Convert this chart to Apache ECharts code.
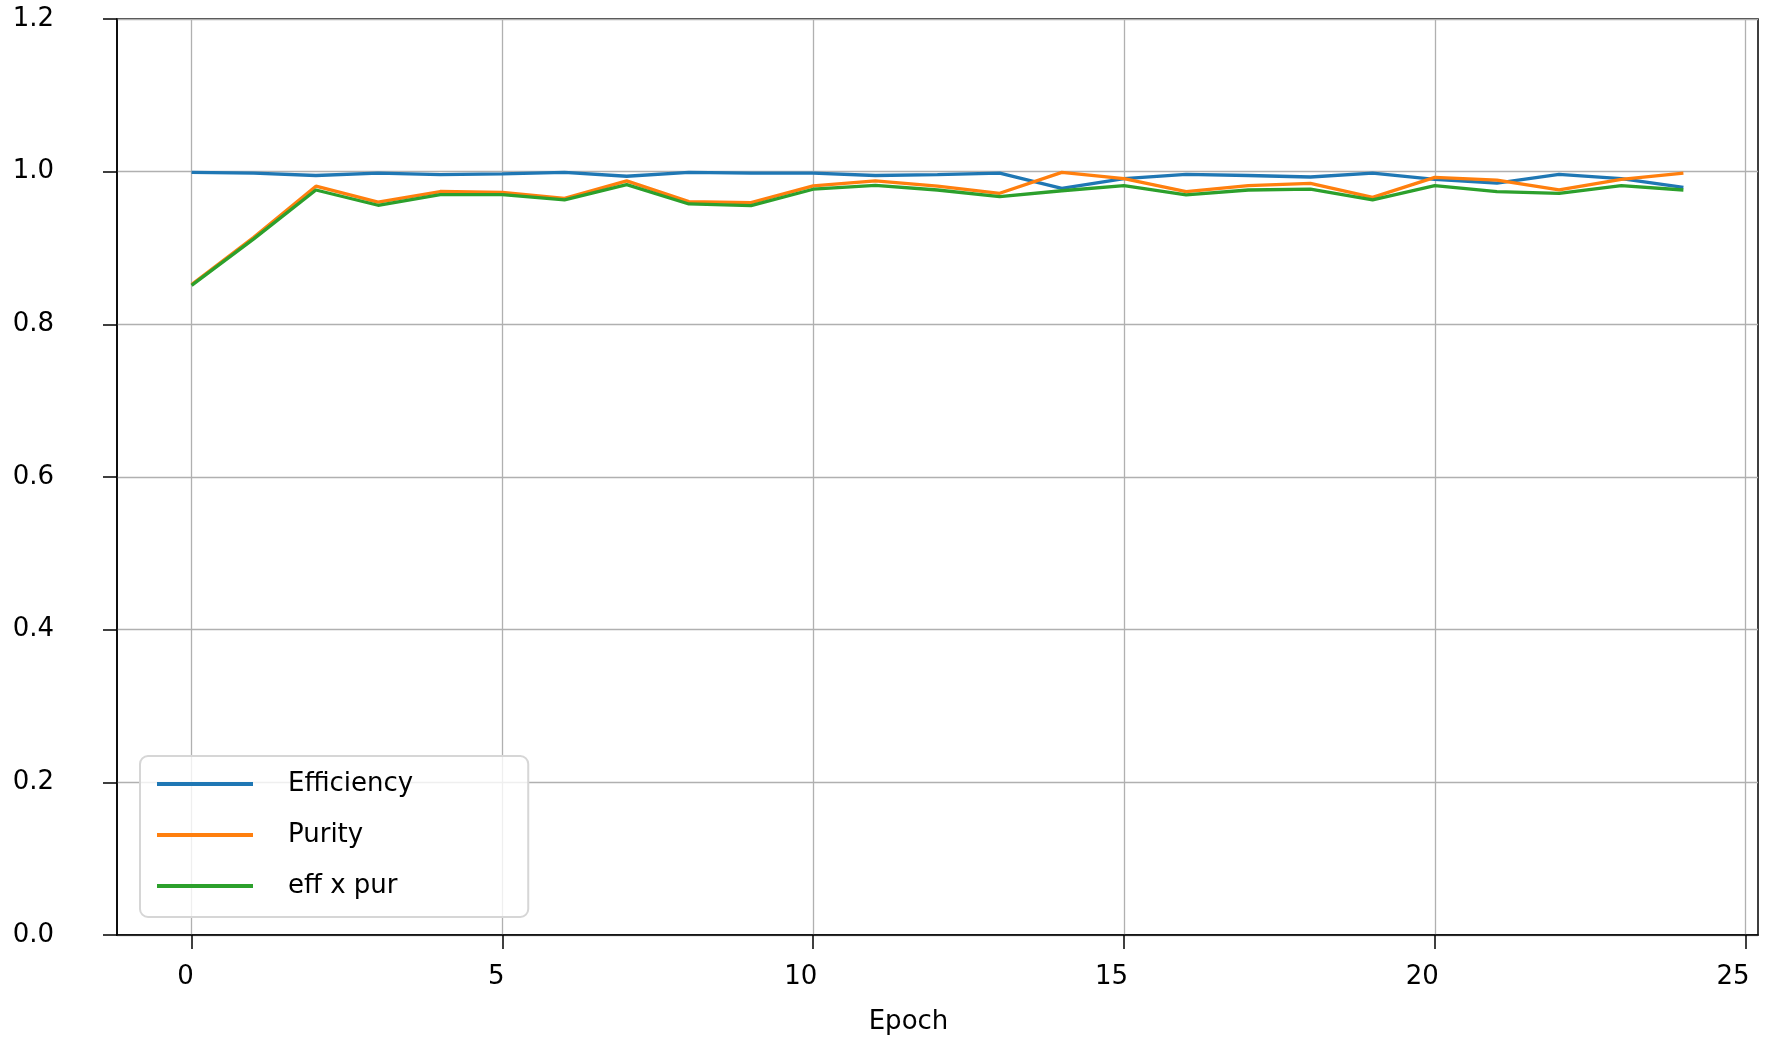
<!DOCTYPE html>
<html>
<head>
<meta charset="utf-8">
<script src="https://cdn.jsdelivr.net/npm/echarts@6/dist/echarts.min.js"></script>
<style>
html,body{margin:0;padding:0;background:#fff;}
#chart{width:1769px;height:1037px;}
</style>
</head>
<body>
<div id="chart"></div>
<script>
const epochs = [0,1,2,3,4,5,6,7,8,9,10,11,12,13,14,15,16,17,18,19,20,21,22,23,24];
const efficiency = [0.999,0.998,0.995,0.998,0.996,0.997,0.999,0.994,0.999,0.998,0.998,0.995,0.996,0.998,0.978,0.991,0.9965,0.995,0.993,0.998,0.990,0.985,0.9965,0.991,0.9795];
const purity = [0.852,0.914,0.981,0.960,0.974,0.973,0.965,0.988,0.9607,0.9594,0.9813,0.988,0.981,0.9717,0.999,0.991,0.9738,0.9817,0.9847,0.9664,0.9926,0.989,0.976,0.990,0.998];
const effXpur = [0.851,0.912,0.976,0.956,0.970,0.970,0.963,0.983,0.9577,0.9555,0.977,0.982,0.976,0.9673,0.975,0.9817,0.9695,0.976,0.977,0.963,0.9817,0.9738,0.9716,0.9817,0.976];
const xTicks = [0,5,10,15,20,25];
const seriesNames = ['Efficiency','Purity','eff x pur'];
const colors = ['#1f77b4','#ff7f0e','#2ca02c'];

const font = 'DejaVu Sans';
const chart = echarts.init(document.getElementById('chart'), null, {renderer:'canvas'});
const mk = (arr) => epochs.map((e,i)=>[e, arr[i]]);
const data = [efficiency, purity, effXpur];
const lab = {fontFamily:font,fontSize:26,color:'#000'};

chart.setOption({
  animation:false,
  backgroundColor:'#fff',
  grid:{left:117,right:11,top:19,bottom:102,outerBoundsMode:'none',containLabel:false,show:true,borderColor:'#000',borderWidth:1.5,backgroundColor:'transparent'},
  xAxis:{
    type:'value',min:-1.2,max:25.2,
    name:'Epoch',nameLocation:'middle',nameGap:74,
    nameTextStyle:{fontFamily:font,fontSize:26,color:'#000',padding:[0,58,0,0]},
    axisLine:{show:true,onZero:false,lineStyle:{color:'#000',width:1.5}},
    axisTick:{show:true,length:14,customValues:xTicks,lineStyle:{color:'#000',width:1.5}},
    axisLabel:{customValues:xTicks,fontFamily:font,fontSize:26,color:'#000',margin:29,
      formatter:v=> (v>=10? '{b|'+v+'}' : '{a|'+v+'}'),
      rich:{a:Object.assign({padding:[0,12,0,0]},lab), b:Object.assign({padding:[0,25,0,0]},lab)}},
    splitLine:{show:true,lineStyle:{color:'#b0b0b0',width:1.3}}
  },
  yAxis:{
    type:'value',min:0,max:1.2,interval:0.2,
    axisLine:{show:true,onZero:false,lineStyle:{color:'#000',width:1.5}},
    axisTick:{show:true,length:14,lineStyle:{color:'#000',width:1.5}},
    axisLabel:{fontFamily:font,fontSize:26,color:'#000',margin:63,formatter:v=>v.toFixed(1)},
    splitLine:{show:true,lineStyle:{color:'#b0b0b0',width:1.3}}
  },
  legend:{
    orient:'vertical',left:140,top:756,
    padding:[13,115,16,17],itemGap:21,
    itemWidth:96,itemHeight:4,icon:'rect',
    backgroundColor:'rgba(255,255,255,0.8)',borderColor:'#d6d6d6',borderWidth:2,borderRadius:8,
    textStyle:{fontFamily:font,fontSize:26,color:'#000',lineHeight:30,padding:[0,0,0,30]},
    data:seriesNames
  },
  series:seriesNames.map((n,i)=>({
    name:n,type:'line',data:mk(data[i]),showSymbol:false,symbol:'none',
    lineStyle:{color:colors[i],width:3.3},itemStyle:{color:colors[i]},z:3+i
  }))
});
</script>
</body>
</html>
